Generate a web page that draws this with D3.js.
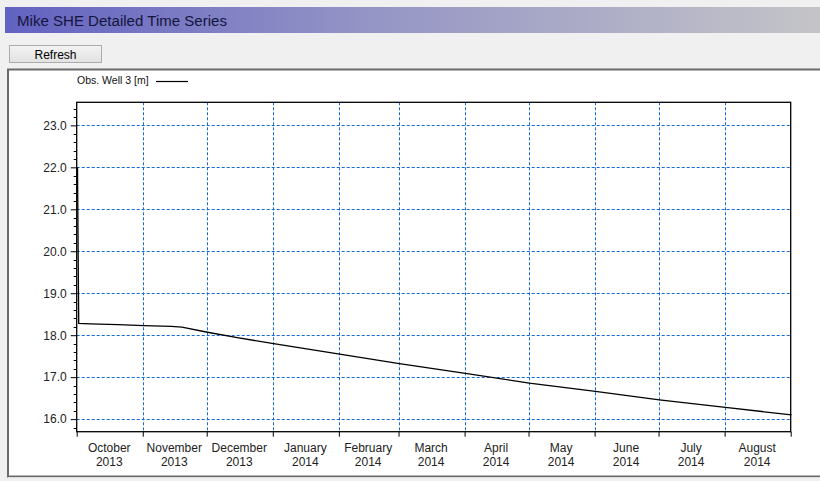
<!DOCTYPE html>
<html>
<head>
<meta charset="utf-8">
<script src="https://cdn.jsdelivr.net/npm/d3@7"></script>
<style>
  html, body { margin: 0; padding: 0; background: #f0f0f0; }
  svg { display: block; }
</style>
</head>
<body>
<div id="chart"></div>
<script>
// observation well series
const obsDates = [
  "2013-10-01T00:00", "2013-10-01T09:00", "2013-10-01T14:00", "2013-10-07T00:00",
  "2013-10-20T00:00", "2013-11-01T00:00", "2013-11-14T00:00", "2013-11-19T00:00",
  "2013-12-01T00:00", "2013-12-15T00:00", "2014-01-01T00:00", "2014-02-01T00:00",
  "2014-03-01T00:00", "2014-04-01T00:00", "2014-05-01T00:00", "2014-06-01T00:00",
  "2014-07-01T00:00", "2014-08-01T00:00", "2014-09-01T00:00"
]
const obsLevels = [
  22.0, 19.5, 18.28, 18.27,
  18.25, 18.23, 18.21, 18.19,
  18.07, 17.94, 17.80, 17.55,
  17.32, 17.09, 16.86, 16.66,
  16.46, 16.28, 16.10
]
const yTicks = [16, 17, 18, 19, 20, 21, 22, 23]
const yDomain = [15.7, 23.55]
const xDomain = ["2013-10-01", "2014-09-01"]
const seriesName = "Obs. Well 3 [m]"
const titleText = "Mike SHE Detailed Time Series"

const W = 820, H = 481
const PLOT = { LEFT: 76.7, RIGHT: 790.7, TOP: 102.3, BOTTOM: 431.7 }
const FONT = "'Liberation Sans', Arial, sans-serif"
const GRID = "#1468d8"

const parse = d3.isoParse
const data = obsDates.map((d, i) => ({ date: parse(d), value: obsLevels[i] }))

const svg = d3.select("#chart").append("svg")
  .attr("width", W)
  .attr("height", H)

// window chrome
const defs = svg.append("defs")
const grad = defs.append("linearGradient").attr("id", "titleGrad")
grad.append("stop").attr("offset", "0%").attr("stop-color", "#6262c2")
grad.append("stop").attr("offset", "45%").attr("stop-color", "#9595c6")
grad.append("stop").attr("offset", "100%").attr("stop-color", "#c4c4c8")

svg.append("rect").attr("x", 5).attr("y", 7).attr("width", W - 5).attr("height", 26)
  .attr("fill", "url(#titleGrad)")
svg.append("text").attr("x", 17).attr("y", 26)
  .attr("font-family", FONT)
  .attr("font-size", 15.5)
  .attr("textLength", 210).attr("lengthAdjust", "spacingAndGlyphs")
  .attr("fill", "#15153a")
  .text(titleText)

const btnGrad = defs.append("linearGradient").attr("id", "btnGrad")
  .attr("x1", 0).attr("x2", 0).attr("y1", 0).attr("y2", 1)
btnGrad.append("stop").attr("offset", "0%").attr("stop-color", "#f3f3f3")
btnGrad.append("stop").attr("offset", "100%").attr("stop-color", "#e2e2e2")
svg.append("rect").attr("x", 9.5).attr("y", 45.5).attr("width", 92).attr("height", 17)
  .attr("fill", "url(#btnGrad)").attr("stroke", "#acacac")
svg.append("text").attr("x", 55.5).attr("y", 58.5)
  .attr("text-anchor", "middle")
  .attr("font-family", FONT).attr("font-size", 12).attr("fill", "#000")
  .text("Refresh")

// chart panel
svg.append("rect").attr("x", 8).attr("y", 69.5).attr("width", W).attr("height", 407)
  .attr("fill", "#fff").attr("stroke", "#6a6a6a").attr("stroke-width", 2)
svg.append("line").attr("x1", 8).attr("x2", W).attr("y1", 477.5).attr("y2", 477.5)
  .attr("stroke", "#dcdcdc")

// scales
const x = d3.scaleTime()
  .domain(xDomain.map(d => parse(d)))
  .range([PLOT.LEFT, PLOT.RIGHT])
const y = d3.scaleLinear()
  .domain(yDomain)
  .range([PLOT.BOTTOM, PLOT.TOP])

const months = d3.timeMonth.range(x.domain()[0], d3.timeDay.offset(x.domain()[1], 1))
const g = svg.append("g")

// grid
g.append("g").selectAll("line").data(yTicks).join("line")
  .attr("x1", PLOT.LEFT).attr("x2", PLOT.RIGHT)
  .attr("y1", d => Math.round(y(d)) + 0.5).attr("y2", d => Math.round(y(d)) + 0.5)
  .style("stroke", GRID).attr("stroke-dasharray", "3,2")
g.append("g").selectAll("line").data(months.slice(1, -1)).join("line")
  .attr("x1", d => Math.round(x(d)) + 0.5).attr("x2", d => Math.round(x(d)) + 0.5)
  .attr("y1", PLOT.TOP).attr("y2", PLOT.BOTTOM)
  .style("stroke", GRID).attr("stroke-dasharray", "3,2")

// y axis with minor ticks
const minor = d3.range(15.8, 23.55, 0.2).filter(v => Math.abs(v - Math.round(v)) > 0.01)
g.append("g").selectAll("line").data(minor).join("line")
  .attr("x1", PLOT.LEFT - 3).attr("x2", PLOT.LEFT)
  .attr("y1", d => Math.round(y(d)) + 0.5).attr("y2", d => Math.round(y(d)) + 0.5)
  .attr("stroke", "#000")
const yAxis = d3.axisLeft(y).tickValues(yTicks).tickFormat(d3.format(".1f"))
  .tickSize(6).tickPadding(4)
const yG = g.append("g").attr("transform", `translate(${PLOT.LEFT},0)`).call(yAxis)
yG.select(".domain").remove()
yG.selectAll("text").attr("font-family", FONT).attr("font-size", 12).attr("fill", "#222")

// x axis
const xAxis = d3.axisBottom(x).tickValues(months).tickFormat("").tickSize(5)
const xG = g.append("g").attr("transform", `translate(0,${PLOT.BOTTOM})`).call(xAxis)
xG.select(".domain").remove()

const monthFmt = d3.timeFormat("%B"), yearFmt = d3.timeFormat("%Y")
const labels = g.append("g").selectAll("text").data(months.slice(0, -1)).join("text")
  .attr("text-anchor", "middle")
  .attr("font-family", FONT).attr("font-size", 12).attr("fill", "#222")
  .attr("transform", d => `translate(${(x(d) + x(d3.timeMonth.offset(d, 1))) / 2 - 0.5},0)`)
labels.append("tspan").attr("x", 0).attr("y", 451.5).text(d => monthFmt(d))
labels.append("tspan").attr("x", 0).attr("y", 466).text(d => yearFmt(d))

// frame
g.append("rect")
  .attr("x", PLOT.LEFT).attr("y", PLOT.TOP)
  .attr("width", PLOT.RIGHT - PLOT.LEFT).attr("height", PLOT.BOTTOM - PLOT.TOP)
  .attr("fill", "none").attr("stroke", "#000").attr("stroke-width", 1.3)

// series line
const line = d3.line()
  .x(d => x(d.date) + 0.8)
  .y(d => y(d.value))
g.append("path").datum(data)
  .attr("fill", "none").attr("stroke", "#000").attr("stroke-width", 1.3)
  .attr("d", line)

// legend
svg.append("text").attr("x", 77).attr("y", 84)
  .attr("font-family", FONT).attr("font-size", 10.5).attr("fill", "#111")
  .text(seriesName)
svg.append("line").attr("x1", 156).attr("x2", 188).attr("y1", 81.5).attr("y2", 81.5)
  .attr("stroke", "#000").attr("stroke-width", 1.2)
</script>
</body>
</html>
